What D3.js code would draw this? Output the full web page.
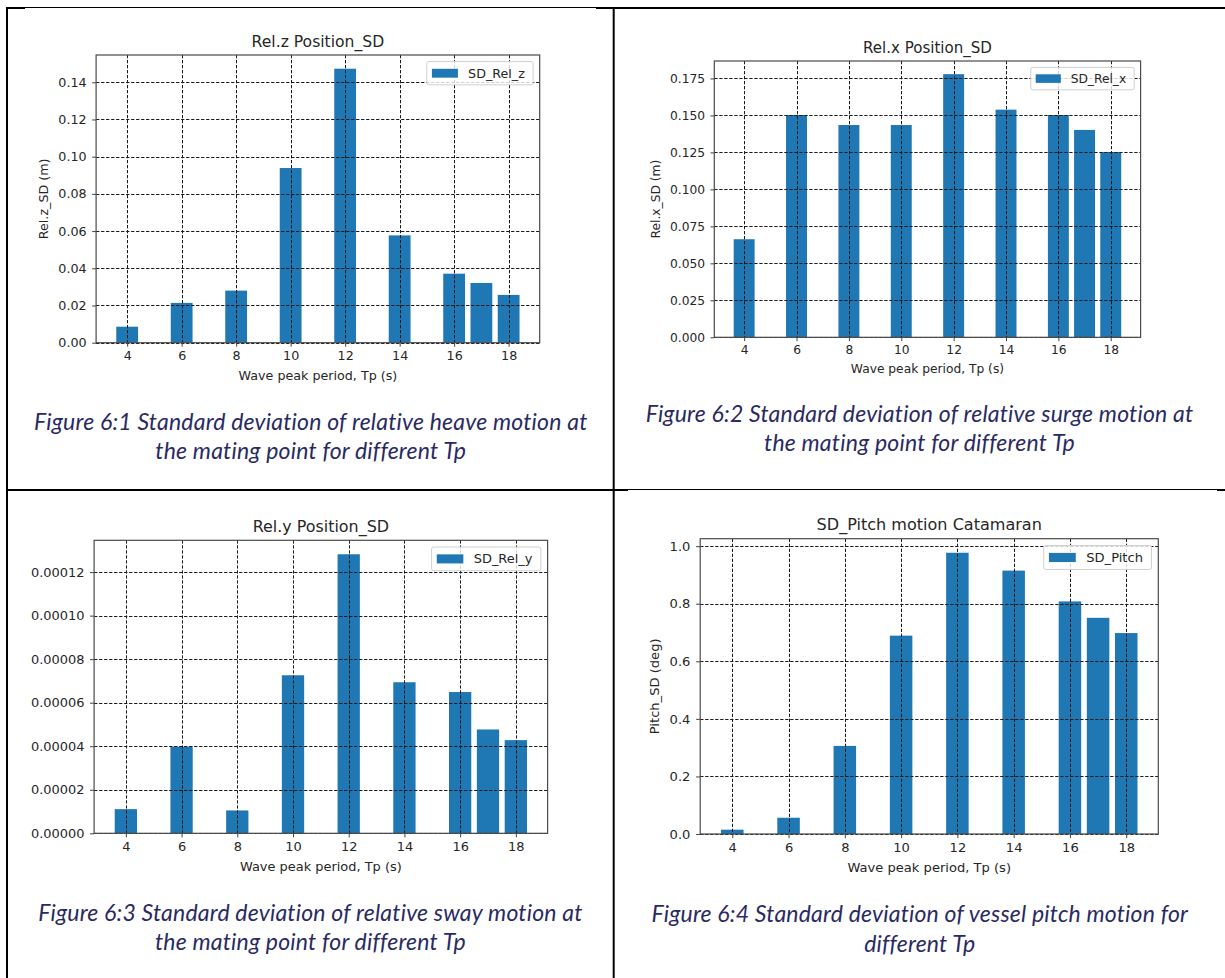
<!DOCTYPE html>
<html>
<head>
<meta charset="utf-8">
<script src="https://cdn.jsdelivr.net/npm/d3@7/dist/d3.min.js"></script>
<style>
  html, body { margin: 0; padding: 0; background: #ffffff; }
  svg { display: block; }
</style>
</head>
<body>
<svg id="page" width="1225" height="978"></svg>
<script>
// Wave peak periods (s) used in every run
const periods = [4, 6, 8, 10, 12, 14, 16, 17, 18];
const periodTicks = [4, 6, 8, 10, 12, 14, 16, 18];

// Standard deviations per wave peak period
const sdRelZ = [0.0086, 0.0214, 0.0280, 0.0939, 0.1473, 0.0577, 0.0371, 0.0321, 0.0257];
const sdRelX = [0.0663, 0.1503, 0.1435, 0.1435, 0.1779, 0.1539, 0.1503, 0.1402, 0.1253];
const sdRelY = [0.0000111, 0.0000398, 0.0000105, 0.0000726, 0.0001282, 0.0000694, 0.0000649, 0.0000477, 0.0000428];
const sdPitch = [0.015, 0.0565, 0.306, 0.689, 0.977, 0.915, 0.808, 0.751, 0.698];

// Y tick values per chart
const ticksRelZ = [0, 0.02, 0.04, 0.06, 0.08, 0.10, 0.12, 0.14];
const ticksRelX = [0, 0.025, 0.05, 0.075, 0.10, 0.125, 0.15, 0.175];
const ticksRelY = [0, 0.00002, 0.00004, 0.00006, 0.00008, 0.00010, 0.00012];
const ticksPitch = [0, 0.2, 0.4, 0.6, 0.8, 1.0];

const panels = [
  { values: sdRelZ, yTicks: ticksRelZ, fmt: ".2f", title: "Rel.z Position_SD", ylabel: "Rel.z_SD (m)",
    legend: "SD_Rel_z", box: { x: 96.1, y: 55, w: 443.6, h: 287.7 }, s: 1.0,
    caption: ["Figure 6:1 Standard deviation of relative heave motion at", "the mating point for different Tp"],
    capX: 310.8, capY: [420.7, 450] },
  { values: sdRelX, yTicks: ticksRelX, fmt: ".3f", title: "Rel.x Position_SD", ylabel: "Rel.x_SD (m)",
    legend: "SD_Rel_x", box: { x: 714.3, y: 61, w: 426.3, h: 276.3 }, s: 0.965,
    caption: ["Figure 6:2 Standard deviation of relative surge motion at", "the mating point for different Tp"],
    capX: 919.5, capY: [412.7, 442] },
  { values: sdRelY, yTicks: ticksRelY, fmt: ".5f", title: "Rel.y Position_SD", ylabel: null,
    legend: "SD_Rel_y", box: { x: 94.1, y: 540.3, w: 453.5, h: 293 }, s: 1.02,
    caption: ["Figure 6:3 Standard deviation of relative sway motion at", "the mating point for different Tp"],
    capX: 310.4, capY: [911.7, 941] },
  { values: sdPitch, yTicks: ticksPitch, fmt: ".1f", title: "SD_Pitch motion Catamaran", ylabel: "Pitch_SD (deg)",
    legend: "SD_Pitch", box: { x: 700.2, y: 538.7, w: 458.1, h: 295.3 }, s: 1.03,
    caption: ["Figure 6:4 Standard deviation of vessel pitch motion for", "different Tp"],
    capX: 919.8, capY: [913.3, 942.7] }
];

const svg = d3.select("#page");
svg.append("rect").attr("width", 1225).attr("height", 978).attr("fill", "#ffffff");

const BAR = "#1f77b4";
const INK = "#262626";
const FONT = "'DejaVu Sans', sans-serif";

function drawPanel(p) {
  const s = p.s;
  const fs = 12.7 * s;
  const b = p.box;
  const g = svg.append("g");

  // x extent as matplotlib autoscales a bar chart: bar edges plus 5% margins
  const lo = d3.min(periods) - 0.4, hi = d3.max(periods) + 0.4, m = (hi - lo) * 0.05;
  const x = d3.scaleLinear().domain([lo - m, hi + m]).range([b.x, b.x + b.w]);
  const y = d3.scaleLinear().domain([0, d3.max(p.values) * 1.05]).range([b.y + b.h, b.y]);

  // bars
  g.append("g").selectAll("rect")
    .data(periods.map((t, i) => ({ t, v: p.values[i] })))
    .join("rect")
    .attr("x", d => x(d.t - 0.4))
    .attr("width", d => x(d.t + 0.4) - x(d.t - 0.4))
    .attr("y", d => y(d.v))
    .attr("height", d => y(0) - y(d.v))
    .attr("fill", BAR);

  // dashed grid drawn over the bars
  const grid = g.append("g").attr("stroke", "#1a1a1a").attr("stroke-width", 1)
    .attr("stroke-dasharray", "3.3,1.7").attr("fill", "none");
  grid.selectAll("line.v").data(periodTicks).join("line").attr("class", "v")
    .attr("x1", d => Math.round(x(d)) + 0.5).attr("x2", d => Math.round(x(d)) + 0.5)
    .attr("y1", b.y).attr("y2", b.y + b.h);
  grid.selectAll("line.h").data(p.yTicks).join("line").attr("class", "h")
    .attr("y1", d => Math.round(y(d)) + 0.5).attr("y2", d => Math.round(y(d)) + 0.5)
    .attr("x1", b.x).attr("x2", b.x + b.w);

  // axes
  const xAxis = d3.axisBottom(x).tickValues(periodTicks).tickFormat(d3.format("d"))
    .tickSizeInner(4 * s).tickSizeOuter(0).tickPadding(4 * s);
  const yAxis = d3.axisLeft(y).tickValues(p.yTicks).tickFormat(d3.format(p.fmt))
    .tickSizeInner(4 * s).tickSizeOuter(0).tickPadding(5.5 * s);

  const gx = g.append("g").attr("transform", `translate(0,${b.y + b.h})`).call(xAxis);
  const gy = g.append("g").attr("transform", `translate(${b.x},0)`).call(yAxis);
  [gx, gy].forEach(a => {
    a.select(".domain").remove();
    a.selectAll(".tick line").attr("stroke", "#444").attr("stroke-width", 1);
    a.selectAll(".tick text").attr("fill", INK).style("font-family", FONT).style("font-size", fs + "px");
  });

  // frame
  g.append("rect").attr("x", b.x).attr("y", b.y).attr("width", b.w).attr("height", b.h)
    .attr("fill", "none").attr("stroke", "#4a4a4a").attr("stroke-width", 1.2);

  // title and axis labels
  g.append("text").attr("x", b.x + b.w / 2).attr("y", b.y - 13.5 * s)
    .attr("text-anchor", "middle").attr("dominant-baseline", "central")
    .attr("fill", INK).style("font-family", FONT).style("font-size", (15.6 * s) + "px")
    .text(p.title);

  g.append("text").attr("x", b.x + b.w / 2).attr("y", b.y + b.h + 33 * s)
    .attr("text-anchor", "middle").attr("dominant-baseline", "central")
    .attr("fill", INK).style("font-family", FONT).style("font-size", fs + "px")
    .text("Wave peak period, Tp (s)");

  if (p.ylabel) {
    let left = Infinity;
    gy.selectAll(".tick text").each(function () { left = Math.min(left, this.getBBox().x); });
    const cx = b.x + left - 14.5 * s;
    const cy = b.y + b.h / 2;
    g.append("text").attr("transform", `translate(${cx},${cy}) rotate(-90)`)
      .attr("text-anchor", "middle").attr("dominant-baseline", "central")
      .attr("fill", INK).style("font-family", FONT).style("font-size", fs + "px")
      .text(p.ylabel);
  }

  // legend in the upper right corner
  const lg = g.append("g");
  const lbox = lg.append("rect");
  const patchW = 2.05 * fs, patchH = 0.7 * fs, pad = 0.4 * fs, gap = 0.8 * fs;
  const lt = lg.append("text").attr("dominant-baseline", "central")
    .attr("fill", INK).style("font-family", FONT).style("font-size", fs + "px").text(p.legend);
  const tw = lt.node().getComputedTextLength();
  const lw = pad + patchW + gap + tw + 0.65 * fs;
  const lh = 1.83 * fs;
  const lx = b.x + b.w - 0.52 * fs - lw;
  const ly = b.y + 0.52 * fs;
  lbox.attr("x", lx).attr("y", ly).attr("width", lw).attr("height", lh).attr("rx", 2)
    .attr("fill", "#ffffff").attr("fill-opacity", 0.8).attr("stroke", "#d0d0d0").attr("stroke-width", 1);
  lg.append("rect").attr("x", lx + pad).attr("y", ly + lh / 2 - patchH / 2)
    .attr("width", patchW).attr("height", patchH).attr("fill", BAR);
  lt.attr("x", lx + pad + patchW + gap).attr("y", ly + lh / 2);

  // figure caption
  g.selectAll("text.caption").data(p.caption).join("text").attr("class", "caption")
    .attr("x", p.capX).attr("y", (d, i) => p.capY[i])
    .attr("text-anchor", "middle").attr("dominant-baseline", "central")
    .attr("fill", "#2a2a62").style("font-family", "Lato, 'Open Sans', sans-serif")
    .style("font-style", "italic").style("font-size", "23px").style("letter-spacing", "0.2px")
    .text(d => d);
}

panels.forEach(drawPanel);

// table rules around the four figures
const rules = svg.append("g").attr("stroke", "#000").attr("fill", "none");
const hRule = (x1, x2, yy, w) => rules.append("line").attr("x1", x1).attr("x2", x2).attr("y1", yy).attr("y2", yy).attr("stroke-width", w);
const vRule = (xx, y1, y2, w) => rules.append("line").attr("x1", xx).attr("x2", xx).attr("y1", y1).attr("y2", y2).attr("stroke-width", w);
hRule(6, 1225, 7.5, 1);
hRule(6, 25, 8, 2);
hRule(596, 1225, 8, 2);
hRule(6, 628, 490, 2);
hRule(628, 1217, 489.5, 1);
hRule(1217, 1225, 490, 2);
vRule(7, 7, 978, 2);
vRule(613.7, 7, 978, 2);
</script>
</body>
</html>
